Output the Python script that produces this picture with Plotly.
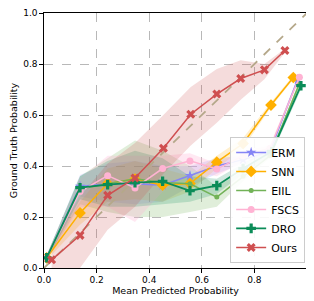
import plotly.graph_objects as go

# ---------------- data ----------------
diag = [0.0, 1.0]
tick_vals = [0.0, 0.2, 0.4, 0.6, 0.8, 1.0]

erm_x = [0.01, 0.137, 0.242, 0.346, 0.451, 0.555, 0.657, 0.757, 0.859, 0.965]
erm_y = [0.04, 0.32, 0.33, 0.33, 0.325, 0.362, 0.40, 0.425, 0.457, 0.74]
erm_lo = [0.03, 0.28, 0.26, 0.25, 0.26, 0.32, 0.37, 0.41, 0.45, 0.73]
erm_hi = [0.05, 0.365, 0.41, 0.42, 0.40, 0.40, 0.43, 0.44, 0.47, 0.75]

snn_x = [0.01, 0.137, 0.242, 0.346, 0.451, 0.555, 0.657, 0.757, 0.863, 0.948]
snn_y = [0.04, 0.216, 0.331, 0.349, 0.325, 0.331, 0.415, 0.488, 0.639, 0.747]
snn_lo = [0.03, 0.17, 0.26, 0.27, 0.26, 0.30, 0.39, 0.47, 0.63, 0.74]
snn_hi = [0.05, 0.26, 0.39, 0.42, 0.39, 0.36, 0.44, 0.51, 0.65, 0.755]

eiil_x = [0.01, 0.137, 0.242, 0.346, 0.451, 0.555, 0.657, 0.757, 0.859, 0.97]
eiil_y = [0.04, 0.31, 0.33, 0.35, 0.335, 0.33, 0.278, 0.36, 0.44, 0.72]
eiil_lo = [0.03, 0.25, 0.22, 0.20, 0.20, 0.22, 0.24, 0.34, 0.43, 0.71]
eiil_hi = [0.05, 0.36, 0.43, 0.50, 0.46, 0.40, 0.32, 0.38, 0.45, 0.73]

fscs_x = [0.01, 0.137, 0.242, 0.346, 0.451, 0.555, 0.657, 0.757, 0.859, 0.971]
fscs_y = [0.04, 0.30, 0.362, 0.314, 0.39, 0.42, 0.388, 0.44, 0.47, 0.748]
fscs_lo = [0.03, 0.24, 0.24, 0.18, 0.30, 0.38, 0.36, 0.42, 0.46, 0.74]
fscs_hi = [0.05, 0.35, 0.44, 0.44, 0.44, 0.45, 0.41, 0.46, 0.48, 0.76]

dro_x = [0.01, 0.137, 0.242, 0.346, 0.451, 0.555, 0.657, 0.757, 0.866, 0.977]
dro_y = [0.04, 0.315, 0.327, 0.335, 0.34, 0.303, 0.323, 0.39, 0.457, 0.715]
dro_lo = [0.03, 0.27, 0.24, 0.24, 0.25, 0.26, 0.29, 0.37, 0.445, 0.70]
dro_hi = [0.05, 0.36, 0.42, 0.46, 0.43, 0.36, 0.35, 0.41, 0.47, 0.73]

ours_x = [0.029, 0.137, 0.242, 0.346, 0.454, 0.558, 0.657, 0.748, 0.838, 0.916]
ours_y = [0.032, 0.128, 0.285, 0.353, 0.47, 0.603, 0.682, 0.743, 0.777, 0.853]
ours_lo = [0.0, 0.0, 0.15, 0.24, 0.37, 0.48, 0.57, 0.66, 0.74, 0.845]
ours_hi = [0.09, 0.28, 0.41, 0.49, 0.60, 0.71, 0.78, 0.815, 0.80, 0.86]

series = [
    ("ERM", erm_x, erm_y, erm_lo, erm_hi, "#8585f5", "rgba(133,133,245,0.22)", "star", 8, 1.5),
    ("SNN", snn_x, snn_y, snn_lo, snn_hi, "#ffb000", "rgba(255,176,0,0.2)", "diamond", 9, 1.5),
    ("EIIL", eiil_x, eiil_y, eiil_lo, eiil_hi, "#72b257", "rgba(114,178,87,0.22)", "circle", 5, 1.5),
    ("FSCS", fscs_x, fscs_y, fscs_lo, fscs_hi, "#ffb3d3", "rgba(255,179,211,0.3)", "circle", 7, 1.5),
    ("DRO", dro_x, dro_y, dro_lo, dro_hi, "#0b8c58", "rgba(11,140,88,0.2)", "cross", 8, 1.8),
    ("Ours", ours_x, ours_y, ours_lo, ours_hi, "#cf4f50", "rgba(207,79,80,0.2)", "x", 8, 1.5),
]

fig = go.Figure()

# confidence bands
for name, xs, ys, lo, hi, col, fcol, sym, ms, lw in series:
    fig.add_trace(go.Scatter(
        x=xs + xs[::-1], y=hi + lo[::-1], fill="toself", fillcolor=fcol,
        line=dict(width=0), mode="lines", showlegend=False, hoverinfo="skip"))

# diagonal
fig.add_trace(go.Scatter(x=diag, y=diag, mode="lines",
                         line=dict(color="#b5a88a", width=1.8, dash="dash"),
                         showlegend=False, hoverinfo="skip"))

for name, xs, ys, lo, hi, col, fcol, sym, ms, lw in series:
    fig.add_trace(go.Scatter(
        x=xs, y=ys, mode="lines+markers", name=name,
        line=dict(color=col, width=lw),
        marker=dict(symbol=sym, size=ms, color=col, line=dict(width=0))))

axis_common = dict(
    range=[0, 1], tickvals=tick_vals, tickformat=".1f",
    showgrid=True, gridcolor="#b8b8b8", griddash="dash", gridwidth=1,
    showline=True, linecolor="black", linewidth=1.3, mirror=True,
    ticks="outside", ticklen=3.5, tickcolor="black", zeroline=False,
    tickfont=dict(size=9, color="black"), automargin=False,
)

# the page body adds an 8px offset, so the figure is laid out 8px smaller
fig.update_layout(
    width=306, height=293,
    margin=dict(l=36, r=7, t=5, b=33),
    paper_bgcolor="white", plot_bgcolor="white",
    font=dict(family="DejaVu Sans", size=9.5, color="black"),
    xaxis=dict(**axis_common,
               title=dict(text="Mean Predicted Probability",
                          font=dict(size=9.5), standoff=2)),
    yaxis=dict(**axis_common,
               title=dict(text="Ground Truth Probability",
                          font=dict(size=9.5), standoff=6)),
    legend=dict(x=0.993, y=0.02, xanchor="right", yanchor="bottom",
                bgcolor="rgba(255,255,255,0.9)", bordercolor="#cccccc", borderwidth=1,
                font=dict(size=11), itemwidth=30, tracegroupgap=0),
    showlegend=True,
)

fig.write_html("out.html")
